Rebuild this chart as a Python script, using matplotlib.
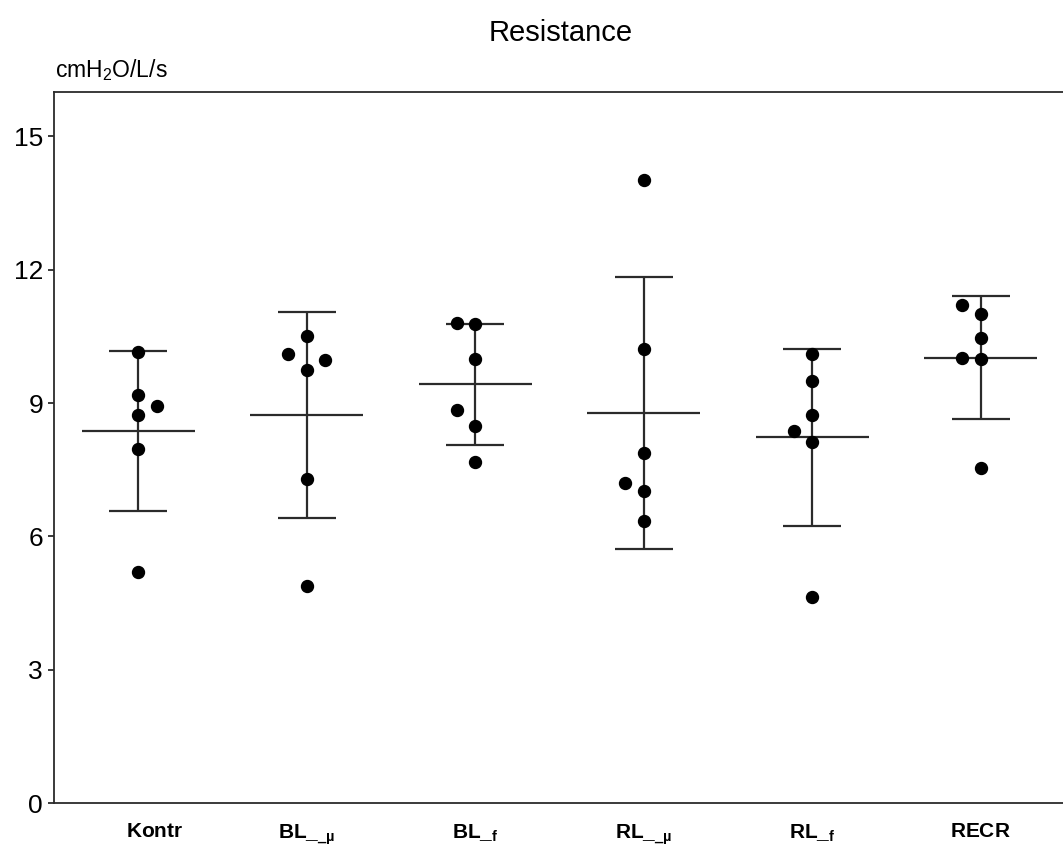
import matplotlib
matplotlib.use("Agg")
import matplotlib.pyplot as plt
import matplotlib.transforms as mtransforms
import numpy as np

plt.rcParams['font.family'] = ['Liberation Sans', 'DejaVu Sans']
plt.rcParams['mathtext.fontset'] = 'custom'
plt.rcParams['mathtext.rm'] = 'Liberation Sans'
plt.rcParams['mathtext.bf'] = 'Liberation Sans:bold'

# groups and individual measurements (cmH2O/L/s)
groups = [r"$\mathbf{Kontr}$", r"$\mathbf{BL\_}_{\mathbf{\_µ}}$", r"$\mathbf{BL\_}_{\mathbf{f}}$",
          r"$\mathbf{RL\_}_{\mathbf{\_µ}}$", r"$\mathbf{RL\_}_{\mathbf{f}}$", r"$\mathbf{RECR}$"]
kontr = [10.16, 9.19, 8.94, 8.72, 7.97, 5.20]
bl_u = [10.50, 10.10, 9.98, 9.74, 7.29, 4.88]
bl_f = [10.81, 10.77, 10.00, 8.85, 8.49, 7.68]
rl_u = [14.03, 10.21, 7.88, 7.21, 7.01, 6.35]
rl_f = [10.10, 9.49, 8.72, 8.38, 8.13, 4.63]
recr = [11.21, 11.00, 10.47, 10.01, 10.00, 7.53]
values = [kontr, bl_u, bl_f, rl_u, rl_f, recr]

# group mean and standard deviation
means = [8.37, 8.74, 9.42, 8.78, 8.23, 10.02]
sds = [1.81, 2.32, 1.37, 3.06, 1.99, 1.39]

# horizontal spread of overlapping dots
jitter = [
    [0, 0, 0.11, 0, 0, 0],
    [0, -0.11, 0.11, 0, 0, 0],
    [-0.11, 0, 0, -0.11, 0, 0],
    [0, 0, 0, -0.11, 0, 0],
    [0, 0, 0, -0.11, 0, 0],
    [-0.11, 0, 0, -0.11, 0, 0],
]

line_col = '#2b2b2b'

fig = plt.figure(figsize=(10.63, 8.58), dpi=100)
ax = fig.add_axes([0.0508, 0.0641, 0.951, 0.8287])

pos = np.arange(1, len(groups) + 1)
for i, vals in enumerate(values):
    xs = pos[i] + np.array(jitter[i])
    ax.plot(xs, vals, 'o', color='black', markersize=8.6, zorder=3)

ax.errorbar(pos, means, yerr=sds, fmt='none', ecolor=line_col, elinewidth=1.6,
            capsize=20.9, capthick=1.6, zorder=2)
ax.hlines(means, pos - 0.335, pos + 0.335, color=line_col, linewidth=1.6, zorder=2)

ax.set_xlim(0.5, 6.5)
ax.set_ylim(0, 16)
ax.set_yticks([0, 3, 6, 9, 12, 15])
ax.set_xticks(pos)
ax.set_xticklabels(groups, fontsize=15)
ax.tick_params(axis='x', length=0, pad=14)
ax.tick_params(axis='y', length=4.3, width=1.3, pad=3.6, labelsize=19, color=line_col)

# first label sits a little right of its group
lbl = ax.get_xticklabels()[0]
lbl.set_transform(lbl.get_transform() + mtransforms.ScaledTranslation(0.16, 0, fig.dpi_scale_trans))

ax.spines['right'].set_visible(False)
for s in ['left', 'top', 'bottom']:
    ax.spines[s].set_linewidth(1.3)
    ax.spines[s].set_color(line_col)

fig.text(0.527, 0.962, 'Resistance', ha='center', va='center', fontsize=21)
fig.text(0.052, 0.918, 'cmH$_2$O/L/s', ha='left', va='center', fontsize=16.5)

fig.savefig('out.png', dpi=100)
